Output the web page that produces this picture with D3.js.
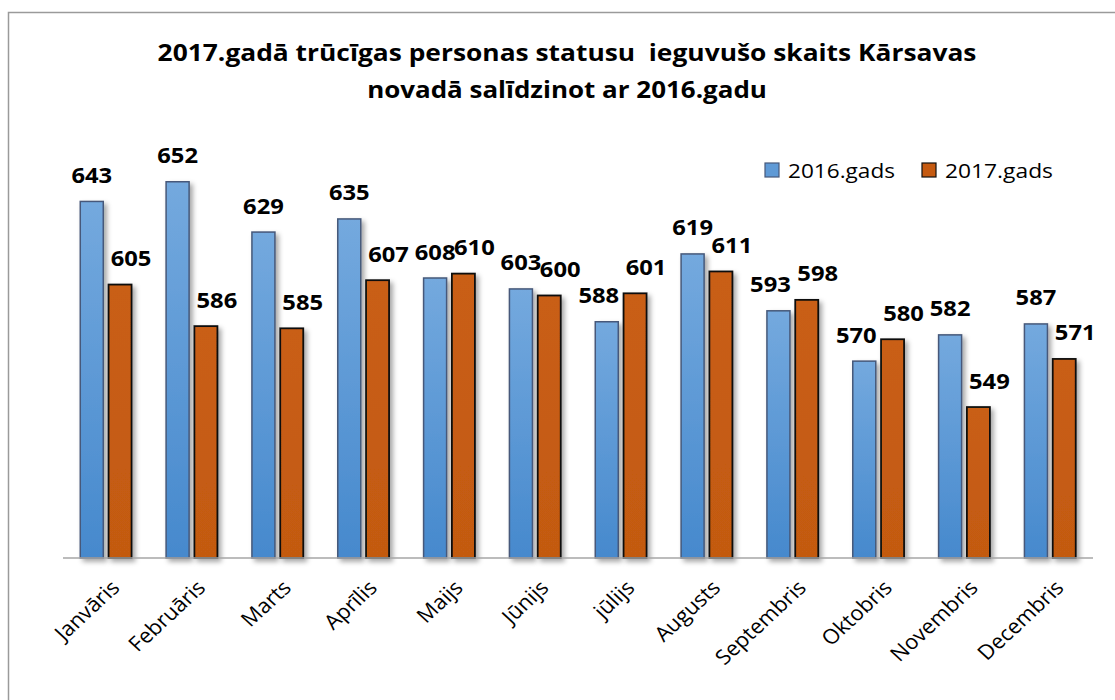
<!DOCTYPE html>
<html>
<head>
<meta charset="utf-8">
<script src="https://cdn.jsdelivr.net/npm/d3@7"></script>
<style>
  html, body { margin: 0; padding: 0; background: #fff; }
  svg { display: block; }
  text { font-family: "Open Sans", Lato, sans-serif; }
</style>
</head>
<body>
<svg id="chart" width="1115" height="700"></svg>
<script>
// ---- data ----
const months = ["Janvāris","Februāris","Marts","Aprīlis","Maijs","Jūnijs","jūlijs","Augusts","Septembris","Oktobris","Novembris","Decembris"];
const seriesNames = ["2016.gads", "2017.gads"];
const values2016 = [643, 652, 629, 635, 608, 603, 588, 619, 593, 570, 582, 587];
const values2017 = [605, 586, 585, 607, 610, 600, 601, 611, 598, 580, 549, 571];
const titleLines = ["2017.gadā trūcīgas personas statusu  ieguvušo skaits Kārsavas", "novadā salīdzinot ar 2016.gadu"];
const yDomain = [480, 660];

// ---- layout ----
const svg = d3.select("#chart");
const W = 1115, H = 700;
const plot = { left: 63, right: 1093, bottom: 558 };
const SX = 1.08; // horizontal text stretch of the reference

svg.append("rect").attr("x", 0).attr("y", 0).attr("width", W).attr("height", H).attr("fill", "#fff");
svg.append("rect").attr("x", 8.5).attr("y", 12.5).attr("width", W + 20).attr("height", H + 20)
  .attr("fill", "none").attr("stroke", "#9a9a9a").attr("stroke-width", 1.5);

const defs = svg.append("defs");
const gBlue = defs.append("linearGradient").attr("id", "gBlue").attr("x1", 0).attr("y1", 0).attr("x2", 0).attr("y2", 1);
gBlue.append("stop").attr("offset", "0%").attr("stop-color", "#74a9de");
gBlue.append("stop").attr("offset", "100%").attr("stop-color", "#4689cd");
const gOr = defs.append("linearGradient").attr("id", "gOr").attr("x1", 0).attr("y1", 0).attr("x2", 0).attr("y2", 1);
gOr.append("stop").attr("offset", "0%").attr("stop-color", "#c95e14");
gOr.append("stop").attr("offset", "100%").attr("stop-color", "#c35a11");
const f = defs.append("filter").attr("id", "shadow").attr("x", "-30%").attr("y", "-10%").attr("width", "170%").attr("height", "130%");
f.append("feDropShadow").attr("dx", 3).attr("dy", 3).attr("stdDeviation", 2.5)
  .attr("flood-color", "#000").attr("flood-opacity", 0.35);

const x0 = d3.scaleBand().domain(months).range([plot.left, plot.right]).padding(0);
const x1 = d3.scaleBand().domain(seriesNames).range([0, x0.bandwidth()]).paddingInner(0.187).paddingOuter(0.61);
const y = d3.scaleLinear().domain(yDomain).range([plot.bottom, plot.bottom - (yDomain[1] - yDomain[0]) * 2.1875]);

const fills = { "2016.gads": "url(#gBlue)", "2017.gads": "url(#gOr)" };
const strokes = { "2016.gads": "#46597a", "2017.gads": "#111" };
const legendFill = { "2016.gads": "#5f9ad6", "2017.gads": "#c55a11" };

const rows = months.map((m, i) => ({ m, vals: [
  { s: seriesNames[0], v: values2016[i], other: values2017[i] },
  { s: seriesNames[1], v: values2017[i], other: values2016[i] }
]}));

// ---- bars ----
const groups = svg.append("g").selectAll("g").data(rows).join("g")
  .attr("transform", d => `translate(${x0(d.m)},0)`);
groups.selectAll("rect").data(d => d.vals).join("rect")
  .attr("x", d => x1(d.s))
  .attr("y", d => y(d.v))
  .attr("width", x1.bandwidth())
  .attr("height", d => plot.bottom - y(d.v))
  .attr("fill", d => fills[d.s])
  .attr("stroke", d => strokes[d.s])
  .attr("stroke-width", d => d.s === seriesNames[1] ? 1.8 : 1.5)
  .attr("filter", "url(#shadow)");

// ---- axis ----
svg.append("line").attr("x1", plot.left).attr("x2", plot.right)
  .attr("y1", plot.bottom).attr("y2", plot.bottom)
  .attr("stroke", "#a6a6a6").attr("stroke-width", 1.5);

// ---- value labels ----
groups.selectAll("g.lbl").data(d => d.vals).join("g").attr("class", "lbl")
  .attr("transform", d => {
    let dx = 0;
    if (d.s === seriesNames[1]) dx = 11;
    else if (d.other - d.v >= 5) dx = -8;
    return `translate(${x1(d.s) + x1.bandwidth() / 2 + dx},${y(d.v) - 18.5}) scale(${SX},1)`;
  })
  .append("text")
  .attr("text-anchor", "middle")
  .attr("font-size", 22).attr("font-weight", 700).attr("fill", "#000")
  .text(d => d.v);

// ---- x labels ----
svg.append("g").selectAll("g").data(months).join("g")
  .attr("transform", m => `translate(${x0(m) + x0.bandwidth() / 2 + 15},${plot.bottom + 31}) scale(${SX},1) rotate(-45)`)
  .append("text")
  .attr("text-anchor", "end")
  .attr("font-size", 20.5).attr("fill", "#000")
  .text(m => m);

// fit a text's width horizontally to a target width
function fitWidth(sel, targets) {
  sel.each(function(d, i) {
    const t = d3.select(this).select("text");
    const w = t.node().getComputedTextLength();
    const s = targets[i] / w;
    const tr = d3.select(this).attr("transform");
    d3.select(this).attr("transform", `${tr} scale(${s},1)`);
  });
}

// ---- title ----
const titleG = svg.append("g").selectAll("g").data(titleLines).join("g")
  .attr("transform", (t, i) => `translate(567,${61 + i * 37})`);
titleG.append("text")
  .attr("text-anchor", "middle")
  .attr("font-size", 22.5).attr("font-weight", 700).attr("fill", "#000")
  .style("white-space", "pre")
  .text(t => t);
fitWidth(titleG, [819, 400]);

// ---- legend ----
const legendX = [765, 922];
const lg = svg.append("g").selectAll("g").data(seriesNames).join("g")
  .attr("transform", (s, i) => `translate(${legendX[i]},163)`);
lg.append("rect").attr("x", 0).attr("y", 0).attr("width", 14).attr("height", 14)
  .attr("fill", s => legendFill[s]).attr("stroke", s => strokes[s]).attr("stroke-width", 1.2);
const lgT = lg.append("g").attr("transform", `translate(23,14.5)`);
lgT.append("text").attr("font-size", 20).attr("fill", "#000").text(s => s);
fitWidth(lgT, [107, 108]);
</script>
</body>
</html>
